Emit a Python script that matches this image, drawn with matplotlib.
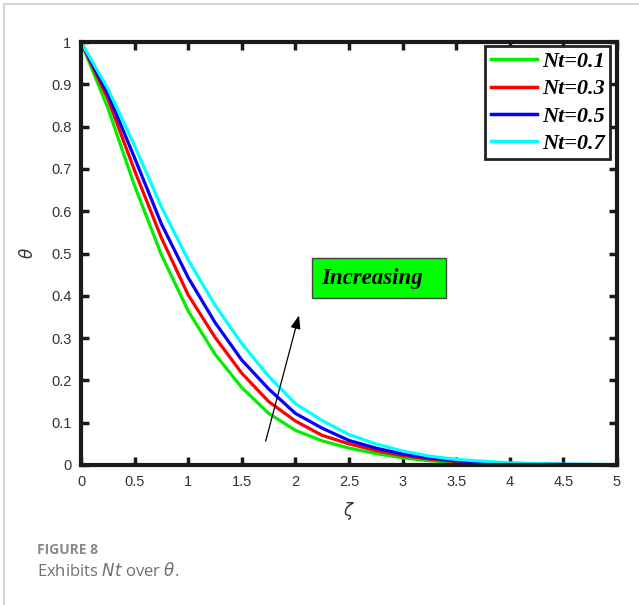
import matplotlib
matplotlib.use("Agg")
import matplotlib.pyplot as plt
from matplotlib.lines import Line2D
from matplotlib.patches import Rectangle

# ---- data ----
zeta = [0, 0.25, 0.5, 0.75, 1.0, 1.25, 1.5, 1.75, 2.0, 2.25, 2.5, 2.75, 3.0, 3.25, 3.5, 4.0, 4.5, 5.0]
theta_nt01 = [1.0, 0.844, 0.660, 0.497, 0.364, 0.262, 0.183, 0.122, 0.082, 0.057, 0.040, 0.027, 0.017, 0.010, 0.006, 0.002, 0.0005, 0.0]
theta_nt03 = [1.0, 0.866, 0.696, 0.537, 0.402, 0.302, 0.217, 0.150, 0.104, 0.070, 0.050, 0.034, 0.022, 0.014, 0.008, 0.003, 0.001, 0.0]
theta_nt05 = [1.0, 0.878, 0.726, 0.570, 0.443, 0.337, 0.248, 0.180, 0.122, 0.087, 0.058, 0.040, 0.026, 0.017, 0.010, 0.004, 0.0015, 0.0005]
theta_nt07 = [1.0, 0.890, 0.755, 0.610, 0.485, 0.378, 0.287, 0.210, 0.145, 0.105, 0.072, 0.050, 0.033, 0.021, 0.013, 0.005, 0.002, 0.001]
labels = ["Nt=0.1", "Nt=0.3", "Nt=0.5", "Nt=0.7"]
colors = ["#00ee00", "#ff0000", "#0000ff", "#00ffff"]
xticks = [0, 0.5, 1, 1.5, 2, 2.5, 3, 3.5, 4, 4.5, 5]
yticks = [0, 0.1, 0.2, 0.3, 0.4, 0.5, 0.6, 0.7, 0.8, 0.9, 1]

fig = plt.figure(figsize=(6.39, 6.05), dpi=100)
ax = fig.add_axes([81/639, 1-465/605, 536/639, 423/605])

for y, c, lab in zip([theta_nt01, theta_nt03, theta_nt05, theta_nt07], colors, labels):
    ax.plot(zeta, y, color=c, lw=2.3, label=lab, solid_joinstyle='round')

ax.set_xlim(0, 5)
ax.set_ylim(0, 1)
ax.set_xticks(xticks)
ax.set_xticklabels([f"{t:g}" for t in xticks])
ax.set_yticks(yticks)
ax.set_yticklabels([f"{t:g}" for t in yticks])
for s in ax.spines.values():
    s.set_linewidth(3.0)
    s.set_color("#1a1a1a")
ax.tick_params(direction='in', length=6, width=2.5, color="#1a1a1a",
               top=True, right=True, labelsize=10.5, labelcolor="#333333",
               pad=7)
for lbl in ax.get_xticklabels() + ax.get_yticklabels():
    lbl.set_family("Liberation Sans")

ax.set_xlabel(r"$\zeta$", fontsize=12, color="#333333", labelpad=8)
ax.set_ylabel(r"$\theta$", fontsize=12, color="#333333", labelpad=10)

leg = ax.legend(loc='upper right', bbox_to_anchor=(0.987, 0.9905), borderaxespad=0,
                prop={'family': 'Liberation Serif', 'weight': 'bold', 'style': 'italic', 'size': 16},
                handlelength=2.1, handletextpad=0.2, labelspacing=0.3,
                borderpad=0.25, fancybox=False, framealpha=1)
leg.get_frame().set_edgecolor("#222222")
leg.get_frame().set_linewidth(2.0)
for h in leg.legend_handles:
    h.set_linewidth(2.5)

# "Increasing" box
ax.add_patch(Rectangle((2.155, 0.395), 1.25, 0.094, facecolor="#00ff00",
                       edgecolor="#444444", lw=1.0, zorder=5))
ax.text(2.24, 0.442, "Increasing", fontsize=16.5, family="Liberation Serif",
        weight="bold", style="italic", va="center", ha="left", zorder=6)
ax.annotate("", xy=(2.04, 0.36), xytext=(1.716, 0.05),
            arrowprops=dict(arrowstyle="-|>,head_length=0.8,head_width=0.3",
                            color="black", lw=0.9))

# caption
fig.text(37/639, 1-550/605, "FIGURE 8", fontsize=10, family="Open Sans",
         weight="bold", color="#8a8a8a", va="center")
fig.text(37/639, 1-571/605, r"Exhibits $\it{Nt}$ over $\it{\theta}$.", fontsize=12,
         family="Open Sans", color="#707070", va="center")

# light frame
fig.add_artist(Line2D([4/639, 4/639], [0, 1-4/605], transform=fig.transFigure,
                      color="#d0d0d0", lw=1.2))
fig.add_artist(Line2D([4/639, 1], [1-4/605, 1-4/605], transform=fig.transFigure,
                      color="#d0d0d0", lw=1.2))

fig.savefig("out.png", dpi=100)
